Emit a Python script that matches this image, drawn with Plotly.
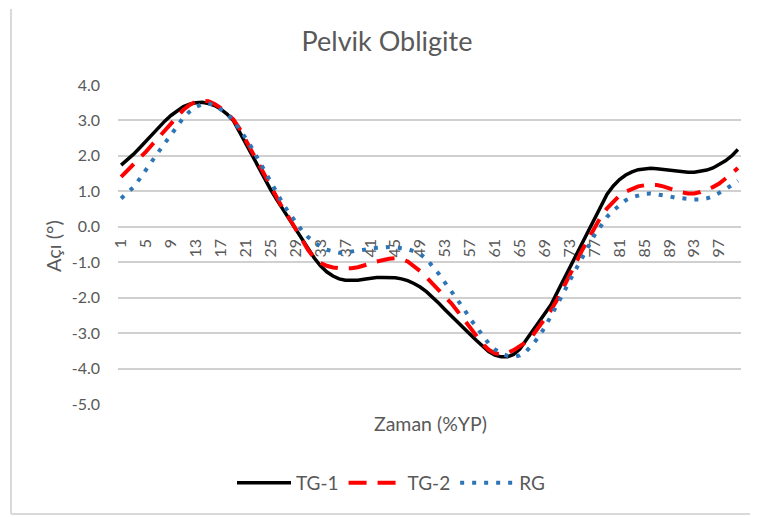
import plotly.graph_objects as go

categories = list(range(1, 101))

tg1 = [1.74, 1.88, 2.05, 2.23, 2.42, 2.61, 2.80, 2.98, 3.14, 3.28,
       3.39, 3.46, 3.50, 3.51, 3.48, 3.42, 3.32, 3.18, 3.00, 2.68,
       2.35, 2.00, 1.68, 1.36, 1.05, 0.76, 0.48, 0.22, -0.05, -0.33,
       -0.60, -0.88, -1.10, -1.27, -1.39, -1.47, -1.51, -1.52, -1.51, -1.48,
       -1.45, -1.43, -1.43, -1.43, -1.44, -1.47, -1.52, -1.60, -1.70, -1.83,
       -1.98, -2.16, -2.34, -2.52, -2.69, -2.86, -3.03, -3.20, -3.37, -3.52,
       -3.62, -3.67, -3.67, -3.60, -3.45, -3.22, -2.95, -2.70, -2.45, -2.20,
       -1.85, -1.50, -1.15, -0.80, -0.45, -0.10, 0.22, 0.58, 0.92, 1.15,
       1.33, 1.46, 1.55, 1.61, 1.64, 1.65, 1.64, 1.62, 1.59, 1.57,
       1.55, 1.54, 1.54, 1.56, 1.60, 1.66, 1.75, 1.86, 2.00, 2.18]

tg2 = [1.41, 1.58, 1.76, 1.93, 2.12, 2.32, 2.52, 2.72, 2.92, 3.12,
       3.30, 3.44, 3.53, 3.56, 3.54, 3.46, 3.35, 3.20, 3.03, 2.77,
       2.45, 2.12, 1.78, 1.44, 1.12, 0.80, 0.50, 0.24, -0.05, -0.36,
       -0.65, -0.88, -1.02, -1.10, -1.15, -1.17, -1.18, -1.17, -1.14, -1.10,
       -1.04, -0.98, -0.94, -0.90, -0.89, -0.91, -0.98, -1.10, -1.25, -1.42,
       -1.60, -1.78, -1.97, -2.16, -2.38, -2.62, -2.86, -3.08, -3.30, -3.47,
       -3.57, -3.60, -3.56, -3.48, -3.38, -3.25, -3.08, -2.85, -2.60, -2.35,
       -2.05, -1.72, -1.38, -1.02, -0.66, -0.34, -0.02, 0.28, 0.52, 0.72,
       0.88, 0.99, 1.08, 1.14, 1.17, 1.18, 1.18, 1.14, 1.08, 1.02,
       0.97, 0.94, 0.94, 0.98, 1.04, 1.12, 1.22, 1.35, 1.50, 1.66]

rg = [0.80, 0.95, 1.12, 1.36, 1.62, 1.86, 2.10, 2.36, 2.59, 2.86,
      3.08, 3.25, 3.38, 3.46, 3.48, 3.43, 3.32, 3.19, 2.99, 2.76,
      2.50, 2.22, 1.90, 1.55, 1.26, 0.95, 0.64, 0.38, 0.12, -0.10,
      -0.29, -0.44, -0.56, -0.65, -0.70, -0.73, -0.72, -0.70, -0.68, -0.65,
      -0.61, -0.59, -0.57, -0.57, -0.58, -0.60, -0.63, -0.69, -0.77, -0.91,
      -1.10, -1.33, -1.58, -1.82, -2.06, -2.31, -2.59, -2.83, -3.08, -3.29,
      -3.46, -3.57, -3.64, -3.67, -3.63, -3.52, -3.33, -3.11, -2.84, -2.53,
      -2.21, -1.87, -1.52, -1.19, -0.88, -0.56, -0.23, 0.02, 0.28, 0.46,
      0.62, 0.75, 0.83, 0.89, 0.93, 0.94, 0.92, 0.89, 0.86, 0.82,
      0.80, 0.78, 0.77, 0.77, 0.80, 0.86, 0.95, 1.05, 1.18, 1.30]

x_tickvals = list(range(1, 101, 4))
x_ticktext = [str(v) for v in x_tickvals]
y_tickvals = [4, 3, 2, 1, 0, -1, -2, -3, -4, -5]
y_ticktext = ["4.0", "3.0", "2.0", "1.0", "0.0", "-1.0", "-2.0", "-3.0", "-4.0", "-5.0"]

FONT = "Lato, 'Open Sans', sans-serif"
GRAY = "#595959"

# page has an 8px body margin; figure size/positions compensate for it
W, H = 750, 509
OFF = 8

fig = go.Figure()
fig.add_trace(go.Scatter(x=categories, y=tg1, mode="lines", name="TG-1",
                         line=dict(color="#000000", width=3.5)))
fig.add_trace(go.Scatter(x=categories, y=tg2, mode="lines", name="TG-2",
                         line=dict(color="#ff0000", width=4, dash="18px,11px")))
fig.add_trace(go.Scatter(x=categories, y=rg, mode="lines", name="RG",
                         line=dict(color="#2e75b6", width=4, dash="4px,8px")))

def px_x(p):  # page x -> paper x
    return (p - 118) / 623

def px_y(p):  # page y -> paper y
    return (404 - p) / 319

fig.update_layout(
    width=W, height=H,
    margin=dict(l=118 - OFF, r=W - (741 - OFF), t=85 - OFF, b=H - (404 - OFF)),
    paper_bgcolor="white", plot_bgcolor="white",
    font=dict(family=FONT, color=GRAY, size=16),
    title=dict(text="Pelvik Obligite", xref="container", x=(387 - OFF) / W, xanchor="center",
               yref="container", y=1 - (42 - OFF) / H, yanchor="middle",
               font=dict(size=27, color=GRAY, family=FONT)),
    showlegend=True,
    legend=dict(orientation="h", xref="container", x=(391 - OFF) / W, xanchor="center",
                yref="container", y=1 - (483 - OFF) / H, yanchor="middle",
                itemwidth=54,
                font=dict(size=19, color=GRAY), bgcolor="rgba(0,0,0,0)"),
    xaxis=dict(range=[0.5, 100.5], anchor="free", position=5 / 9,
               tickmode="array", tickvals=x_tickvals, ticktext=x_ticktext,
               tickangle=-90, showgrid=False, zeroline=False, showline=False,
               ticks="", ticklabelstandoff=8, layer="below traces",
               tickfont=dict(size=16, color=GRAY)),
    yaxis=dict(range=[-5, 4], tickmode="array", tickvals=y_tickvals, ticktext=y_ticktext,
               showgrid=True, gridcolor="#d0d0d0", gridwidth=1.5,
               zeroline=True, zerolinecolor="#d0d0d0", zerolinewidth=1.5,
               showline=False, ticks="", ticklabelstandoff=17,
               tickfont=dict(size=16, color=GRAY)),
    annotations=[
        dict(text="Zaman (%YP)", xref="paper", yref="paper", x=px_x(430), y=px_y(424),
             xanchor="center", yanchor="middle", showarrow=False,
             font=dict(size=19.5, color=GRAY)),
        dict(text="Açı (°)", xref="paper", yref="paper", x=px_x(53), y=px_y(246),
             xanchor="center", yanchor="middle", textangle=-90, showarrow=False,
             font=dict(size=20, color=GRAY)),
    ],
    shapes=[
        dict(type="line", xref="paper", yref="paper",
             x0=px_x(11), x1=px_x(11), y0=px_y(514), y1=px_y(9),
             line=dict(color="#d9d9d9", width=2), layer="below"),
        dict(type="line", xref="paper", yref="paper",
             x0=px_x(11), x1=px_x(760), y0=px_y(514), y1=px_y(514),
             line=dict(color="#d9d9d9", width=2), layer="below"),
    ],
)

fig.write_html("out.html")
